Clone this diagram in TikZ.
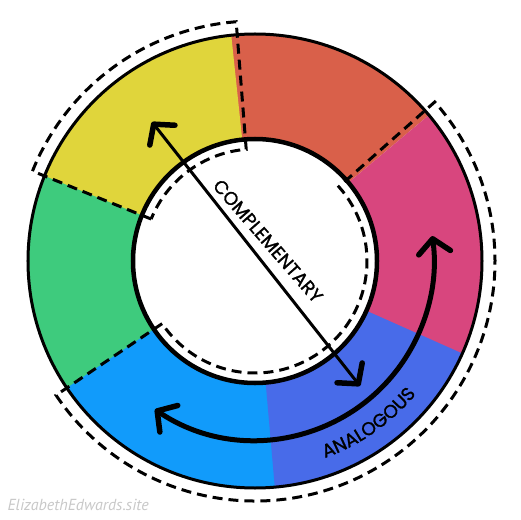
\documentclass[tikz,border=0pt]{standalone}
\usepackage{fontspec}
\setmainfont{Poppins}
\newfontfamily\handfont[FakeBold=1.3]{Poppins}
\newfontfamily\markfont{PT Sans}
\usetikzlibrary{arrows.meta,decorations.text}
\definecolor{wheelred}{RGB}{217,96,74}
\definecolor{wheelyellow}{RGB}{224,213,59}
\definecolor{wheelgreen}{RGB}{62,203,125}
\definecolor{wheelblue}{RGB}{17,155,251}
\definecolor{wheelindigo}{RGB}{72,107,233}
\definecolor{wheelpink}{RGB}{216,70,126}
\definecolor{markgray}{RGB}{200,200,200}

\begin{document}
\begin{tikzpicture}[x=1pt, y=1pt,
    bracket/.style={line width=3pt, dash pattern=on 10pt off 6pt},
    barb/.style={line width=#1, line cap=round,
      {Straight Barb[length=14pt, width=32pt, line width=5.5pt, round]}-{Straight Barb[length=14pt, width=32pt, line width=5.5pt, round]}},
    hand/.style={font=\handfont\fontsize{18.5}{18}\selectfont}]
    \useasboundingbox (-255,-258) rectangle (266,261);
    % colour segments
    \fill[wheelred] (40:122pt) -- (40:227pt) arc[start angle=40, end angle=97, radius=227pt] -- (97:122pt) arc[start angle=97, end angle=40, radius=122pt] -- cycle;
    \fill[wheelyellow] (96:122pt) -- (96:227pt) arc[start angle=96, end angle=159, radius=227pt] -- (159:122pt) arc[start angle=159, end angle=96, radius=122pt] -- cycle;
    \fill[wheelgreen] (158:122pt) -- (158:227pt) arc[start angle=158, end angle=215, radius=227pt] -- (215:122pt) arc[start angle=215, end angle=158, radius=122pt] -- cycle;
    \fill[wheelblue] (214:122pt) -- (214:227pt) arc[start angle=214, end angle=276, radius=227pt] -- (276:122pt) arc[start angle=276, end angle=214, radius=122pt] -- cycle;
    \fill[wheelindigo] (275:122pt) -- (275:227pt) arc[start angle=275, end angle=337, radius=227pt] -- (337:122pt) arc[start angle=337, end angle=275, radius=122pt] -- cycle;
    \fill[wheelpink] (336:122pt) -- (336:227pt) arc[start angle=336, end angle=400, radius=227pt] -- (400:122pt) arc[start angle=400, end angle=336, radius=122pt] -- cycle;
    \draw[line width=3pt] (0,0) circle[radius=227pt];
    \draw[line width=4.5pt, fill=white] (0,0) circle[radius=122pt];

    % dashed brackets
    \draw[bracket] (158:112pt) -- (158:240pt) arc[start angle=158, end angle=94.5, radius=240pt]
      -- (94.5:112pt) arc[start angle=94.5, end angle=158, radius=112pt] -- cycle;
    \draw[bracket] (214:112pt) -- (214:240pt) arc[start angle=214, end angle=401.5, radius=240pt]
      -- (41.5:112pt) arc[start angle=41.5, end angle=-146, radius=112pt] -- cycle;

    % complementary
    \coordinate (compA) at (-103,139);
    \coordinate (compB) at (105,-125);
    \draw[barb=3pt] (compA) -- (compB);
    \node[hand, rotate=-49] (complabel) at (13,20) {COMPLEMENTARY};

    % analogous
    \coordinate (anaA) at (236:179pt);
    \draw[barb=5pt] (anaA) arc[start angle=236, end angle=368, radius=179pt];
    \path[decorate, decoration={text along path, text align=center,
      text={|\handfont\fontsize{18.5}{18}\selectfont|ANALOGOUS}}]
      (283:209pt) arc[start angle=283, end angle=327, radius=209pt];

    \node[anchor=west, text=markgray, font=\markfont\itshape\fontsize{16}{16}\selectfont] (credit) at (-251,-244) {ElizabethEdwards.site};
  \end{tikzpicture}
\end{document}
